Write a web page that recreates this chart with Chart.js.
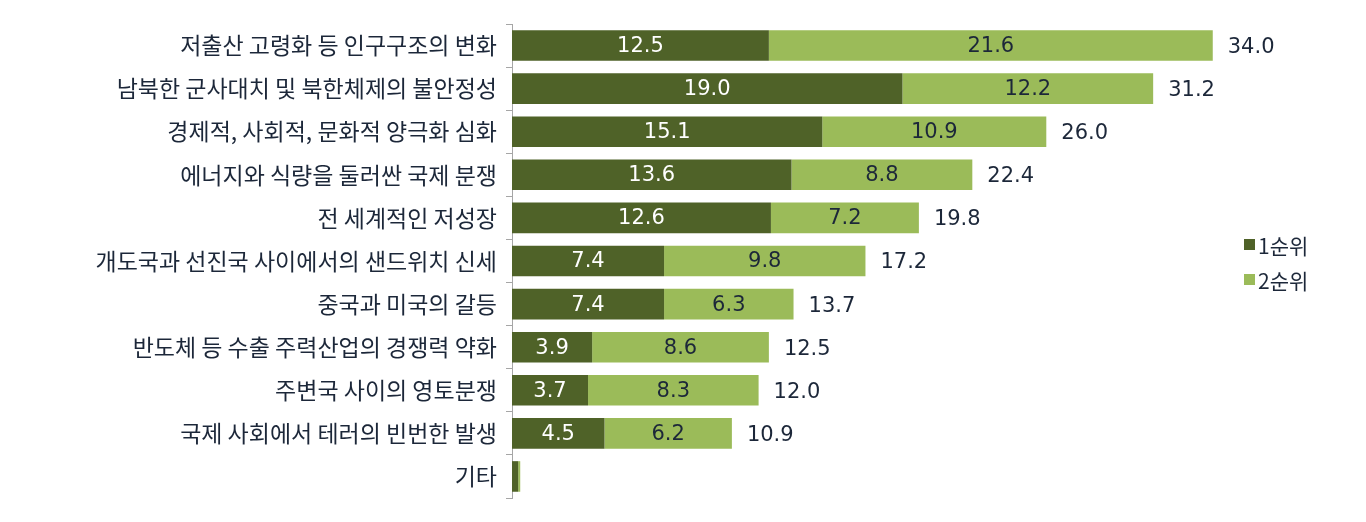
<!DOCTYPE html>
<html lang="ko">
<head>
<meta charset="utf-8">
<script src="https://cdn.jsdelivr.net/npm/chart.js@4"></script>
<style>
  html, body { margin: 0; padding: 0; background: #fff; }
  #wrap { width: 1366px; height: 522px; position: relative; }
</style>
</head>
<body>
<div id="wrap"><canvas id="chart"></canvas></div>
<script>
/* ── 데이터 ── */
const categories = [
  '저출산 고령화 등 인구구조의 변화',
  '남북한 군사대치 및 북한체제의 불안정성',
  '경제적, 사회적, 문화적 양극화 심화',
  '에너지와 식량을 둘러싼 국제 분쟁',
  '전 세계적인 저성장',
  '개도국과 선진국 사이에서의 샌드위치 신세',
  '중국과 미국의 갈등',
  '반도체 등 수출 주력산업의 경쟁력 약화',
  '주변국 사이의 영토분쟁',
  '국제 사회에서 테러의 빈번한 발생',
  '기타',
];
const rank1  = [12.5, 19.0, 15.1, 13.6, 12.6, 7.4, 7.4, 3.9, 3.7, 4.5, 0.3];
const rank2  = [21.6, 12.2, 10.9, 8.8, 7.2, 9.8, 6.3, 8.6, 8.3, 6.2, 0.1];
const totals = [34.0, 31.2, 26.0, 22.4, 19.8, 17.2, 13.7, 12.5, 12.0, 10.9, null];
const seriesNames = ['1순위', '2순위'];

const DARK  = '#4f6228';
const LIGHT = '#9bbb59';
const TEXT  = '#1c2739';
const FONT  = '"Noto Sans CJK KR", "Noto Sans", sans-serif';
const NUM   = '"DejaVu Sans", sans-serif';

/* 막대 안 값 + 합계 표시 */
const valueLabels = {
  id: 'valueLabels',
  afterDatasetsDraw(chart) {
    const ctx = chart.ctx;
    ctx.save();
    ctx.textBaseline = 'middle';
    ctx.font = '21px ' + NUM;
    chart.data.datasets.forEach((ds, di) => {
      chart.getDatasetMeta(di).data.forEach((bar, i) => {
        if (totals[i] == null) return;
        ctx.fillStyle = di === 0 ? '#ffffff' : TEXT;
        ctx.textAlign = 'center';
        ctx.fillText(ds.data[i].toFixed(1), (bar.x + bar.base) / 2, bar.y + 1);
      });
    });
    const last = chart.getDatasetMeta(1).data;
    ctx.fillStyle = TEXT;
    ctx.textAlign = 'left';
    last.forEach((bar, i) => {
      if (totals[i] == null) return;
      ctx.fillText(totals[i].toFixed(1), bar.x + 15, bar.y + 2);
    });
    ctx.restore();
  },
};

/* 오른쪽 범례 */
const sideLegend = {
  id: 'sideLegend',
  afterDraw(chart) {
    const ctx = chart.ctx;
    ctx.save();
    ctx.textBaseline = 'middle';
    ctx.textAlign = 'left';
    ctx.font = '21px ' + FONT;
    [DARK, LIGHT].forEach((c, k) => {
      const y = 246 + k * 35;
      ctx.fillStyle = c;
      ctx.fillRect(1244, y - 7, 11, 11);
      ctx.fillStyle = TEXT;
      ctx.fillText(seriesNames[k], 1258, y);
    });
    ctx.restore();
  },
};

new Chart(document.getElementById('chart'), {
  type: 'bar',
  data: {
    labels: categories,
    datasets: [
      { label: seriesNames[0], data: rank1, backgroundColor: DARK,  categoryPercentage: 0.71, barPercentage: 1 },
      { label: seriesNames[1], data: rank2, backgroundColor: LIGHT, categoryPercentage: 0.71, barPercentage: 1 },
    ],
  },
  options: {
    indexAxis: 'y',
    responsive: true,
    maintainAspectRatio: false,
    animation: false,
    layout: { padding: { left: 0, right: 32, top: 24, bottom: 24 } },
    plugins: { legend: { display: false }, tooltip: { enabled: false } },
    scales: {
      x: {
        stacked: true,
        min: 0,
        max: 40,
        display: false,
      },
      y: {
        stacked: true,
        afterFit(scale) { scale.width = 512; },
        border: { color: '#a6a6a6', width: 1 },
        grid: {
          offset: true,
          drawOnChartArea: false,
          tickLength: 6,
          color: '#a6a6a6',
        },
        ticks: {
          color: TEXT,
          padding: 9,
          font: { family: FONT, size: 23 },
        },
      },
    },
  },
  plugins: [valueLabels, sideLegend],
});
</script>
</body>
</html>
